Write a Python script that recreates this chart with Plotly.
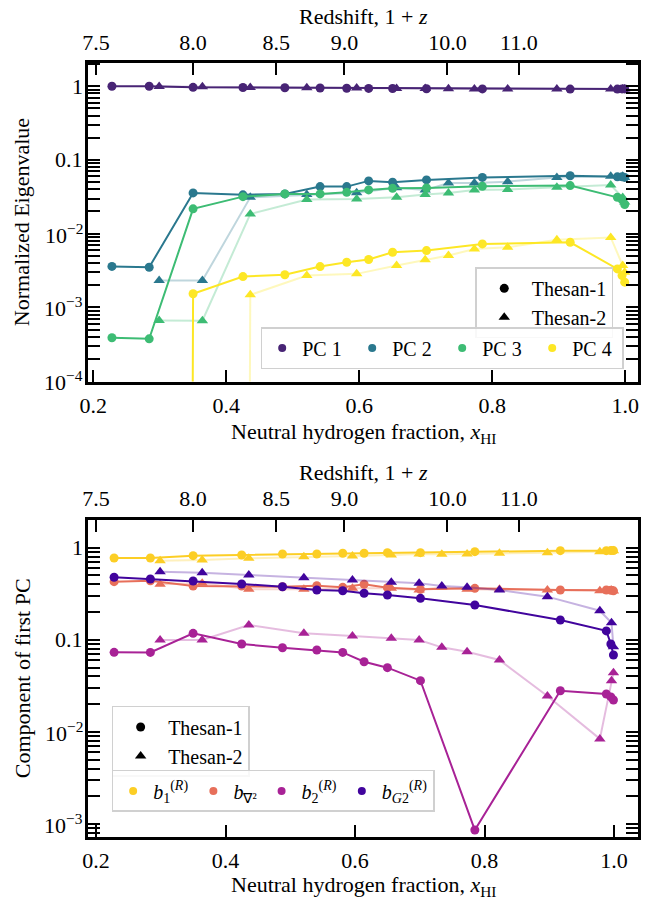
import numpy as np
import plotly.graph_objects as go

FONT = "'Liberation Serif', 'Times New Roman', Times, serif"

# ---------------- data ----------------
# neutral hydrogen fraction of the snapshots
xhi_t1 = [0.228, 0.284, 0.350, 0.425, 0.488, 0.541, 0.581, 0.614, 0.650, 0.701, 0.785, 0.917, 0.988, 0.995, 0.999]
xhi_t2 = [0.299, 0.364, 0.436, 0.521, 0.596, 0.656, 0.699, 0.734, 0.773, 0.823, 0.897, 0.978, 0.996, 0.999]

# top panel: normalized eigenvalues
pc1_t1 = [1.0, 1.0, 0.965, 0.96, 0.955, 0.945, 0.94, 0.935, 0.93, 0.925, 0.92, 0.915, 0.915, 0.92, 0.92]
pc1_t2 = [0.99, 0.985, 0.96, 0.955, 0.945, 0.93, 0.93, 0.925, 0.92, 0.92, 0.915, 0.915, 0.92, 0.92]
pc2_t1 = [0.0036, 0.0035, 0.0357, 0.0336, 0.0346, 0.0435, 0.0435, 0.052, 0.050, 0.0536, 0.058, 0.061, 0.059, 0.059, 0.058]
pc2_t2 = [0.00231, 0.00231, 0.0311, 0.034, 0.036, 0.042, 0.039, 0.0488, 0.0488, 0.0508, 0.058, 0.060, 0.060, 0.058]
pc3_t1 = [3.87e-4, 3.75e-4, 0.0217, 0.0318, 0.0346, 0.0346, 0.0364, 0.0392, 0.0412, 0.0417, 0.0439, 0.0449, 0.0311, 0.029, 0.0248]
pc3_t2 = [6.65e-4, 6.6e-4, 0.0185, 0.029, 0.0296, 0.0311, 0.0339, 0.0357, 0.0392, 0.0396, 0.0425, 0.0458, 0.031, 0.027]
pc4_t1 = [0.0, 0.0, 1.53e-3, 2.62e-3, 2.77e-3, 3.58e-3, 4.1e-3, 4.46e-3, 5.6e-3, 5.9e-3, 7.27e-3, 7.64e-3, 3.33e-3, 2.7e-3, 2.2e-3]
pc4_t2 = [0.0, 0.0, 1.48e-3, 2.7e-3, 2.85e-3, 3.7e-3, 4.42e-3, 5.05e-3, 6.2e-3, 6.55e-3, 8.3e-3, 8.9e-3, 3.7e-3, 3.0e-3]

# bottom panel: components of first PC
b1_t1 = [0.773, 0.773, 0.819, 0.833, 0.855, 0.855, 0.869, 0.869, 0.883, 0.883, 0.905, 0.928, 0.928, 0.93, 0.93]
b1_t2 = [0.723, 0.735, 0.767, 0.798, 0.813, 0.833, 0.855, 0.85, 0.855, 0.869, 0.883, 0.905, 0.92, 0.928]
bnab_t1 = [0.428, 0.438, 0.384, 0.384, 0.377, 0.387, 0.371, 0.401, 0.368, 0.353, 0.362, 0.347, 0.347, 0.345, 0.34]
bnab_t2 = [0.401, 0.41, 0.353, 0.353, 0.362, 0.362, 0.347, 0.371, 0.353, 0.353, 0.347, 0.34, 0.345, 0.338]
b2_t1 = [0.0731, 0.073, 0.1175, 0.090, 0.082, 0.0775, 0.073, 0.0578, 0.0498, 0.036, 8.6e-4, 0.028, 0.0258, 0.024, 0.0222]
b2_t2 = [0.0995, 0.0995, 0.145, 0.1175, 0.110, 0.104, 0.0995, 0.0828, 0.0743, 0.0604, 0.0245, 8.4e-3, 0.036, 0.044]
bg2_t1 = [0.477, 0.457, 0.435, 0.404, 0.377, 0.347, 0.341, 0.32, 0.306, 0.282, 0.239, 0.164, 0.125, 0.09, 0.0684]
bg2_t2 = [0.548, 0.535, 0.506, 0.472, 0.446, 0.421, 0.41, 0.384, 0.371, 0.347, 0.294, 0.207, 0.153, 0.084]

# redshift axis ticks (position in x_HI, label 1+z)
z_tick_xhi = [0.204, 0.350, 0.475, 0.5775, 0.7324, 0.840]
z_tick_text = ["7.5", "8.0", "8.5", "9.0", "10.0", "11.0"]

x_ticks = [0.2, 0.4, 0.6, 0.8, 1.0]
x_tick_text = ["0.2", "0.4", "0.6", "0.8", "1.0"]

y1_ticks = [1e-4, 1e-3, 1e-2, 0.1, 1]
y1_tick_text = ["10<sup>−4</sup>", "10<sup>−3</sup>", "10<sup>−2</sup>", "0.1", "1"]
y2_ticks = [1e-3, 1e-2, 0.1, 1]
y2_tick_text = ["10<sup>−3</sup>", "10<sup>−2</sup>", "0.1", "1"]

pc_names = ["PC 1", "PC 2", "PC 3", "PC 4"]
pc_colors = ["#482475", "#2a788e", "#3dbc74", "#fde725"]
b_names = ["<i>b</i><sub>1</sub><sup>(<i>R</i>)</sup>", "<i>b</i><sub>∇²</sub>",
           "<i>b</i><sub>2</sub><sup>(<i>R</i>)</sup>", "<i>b</i><sub><i>G</i>2</sub><sup>(<i>R</i>)</sup>"]
b_colors = ["#fcce25", "#e76f5a", "#a82296", "#41049d"]


def clip_nonpos(v):
    # matplotlib's log-scale 'clip' behaviour for non-positive values
    v = np.asarray(v, dtype=float)
    return np.where(v > 0, v, 1e-300)


def rgba(hexc, a):
    h = hexc.lstrip("#")
    r, g, b = int(h[0:2], 16), int(h[2:4], 16), int(h[4:6], 16)
    return f"rgba({r},{g},{b},{a})"


fig = go.Figure()


def add_series(xa, ya, t1, t2, color):
    fig.add_trace(go.Scatter(x=xhi_t2, y=clip_nonpos(t2), mode="lines+markers", xaxis=xa, yaxis=ya,
                             line=dict(color=rgba(color, 0.3), width=2),
                             marker=dict(symbol="triangle-up", size=10, color=color),
                             showlegend=False, hoverinfo="skip"))
    fig.add_trace(go.Scatter(x=xhi_t1, y=clip_nonpos(t1), mode="lines+markers", xaxis=xa, yaxis=ya,
                             line=dict(color=color, width=2),
                             marker=dict(symbol="circle", size=9, color=color),
                             showlegend=False, hoverinfo="skip"))


for t1, t2, c in zip([pc1_t1, pc2_t1, pc3_t1, pc4_t1], [pc1_t2, pc2_t2, pc3_t2, pc4_t2], pc_colors):
    add_series("x", "y", t1, t2, c)
for t1, t2, c in zip([b1_t1, bnab_t1, b2_t1, bg2_t1], [b1_t2, bnab_t2, b2_t2, bg2_t2], b_colors):
    add_series("x2", "y2", t1, t2, c)

# invisible carriers for the redshift axes
fig.add_trace(go.Scatter(x=z_tick_xhi, y=[1] * len(z_tick_xhi), xaxis="x3", yaxis="y", mode="markers",
                         marker=dict(opacity=0), showlegend=False, hoverinfo="skip"))
fig.add_trace(go.Scatter(x=z_tick_xhi, y=[1] * len(z_tick_xhi), xaxis="x4", yaxis="y2", mode="markers",
                         marker=dict(opacity=0), showlegend=False, hoverinfo="skip"))

# legend entries
for lg in ["legend", "legend3"]:
    fig.add_trace(go.Scatter(x=[None], y=[None], mode="markers", name="Thesan-1",
                             marker=dict(symbol="circle", size=9, color="black"), legend=lg))
    fig.add_trace(go.Scatter(x=[None], y=[None], mode="markers", name="Thesan-2",
                             marker=dict(symbol="triangle-up", size=10, color="black"), legend=lg))
for n, c in zip(pc_names, pc_colors):
    fig.add_trace(go.Scatter(x=[None], y=[None], mode="markers", name=n,
                             marker=dict(symbol="circle", size=8, color=c), legend="legend2"))
for n, c in zip(b_names, b_colors):
    fig.add_trace(go.Scatter(x=[None], y=[None], mode="markers", name=n,
                             marker=dict(symbol="circle", size=8, color=c), legend="legend4"))

tickfont = dict(family=FONT, size=22, color="black")
titlefont = dict(family=FONT, size=22, color="black")

minor_vals = [m * 10.0 ** k for k in range(-5, 1) for m in range(2, 10)]


def xaxis_main(rng):
    return dict(range=rng, tickmode="array", tickvals=x_ticks, ticktext=x_tick_text,
                ticks="inside", ticklen=12, tickwidth=2, tickcolor="black",
                showline=True, linewidth=2.5, linecolor="black", mirror=True,
                showgrid=False, zeroline=False, tickfont=tickfont, ticklabelstandoff=2)


def yaxis_main(rng, dom, tv):
    return dict(type="log", range=rng, domain=dom, tickmode="array", tickvals=tv,
                showticklabels=False,
                ticks="inside", ticklen=12, tickwidth=2, tickcolor="black",
                minor=dict(ticks="inside", ticklen=6, tickwidth=1.5, tickcolor="black",
                           tickmode="array", tickvals=minor_vals, showgrid=False),
                showline=True, linewidth=2.5, linecolor="black", mirror="allticks",
                showgrid=False, zeroline=False)


def zaxis(over, anchor, rng):
    return dict(overlaying=over, anchor=anchor, side="top", range=rng,
                tickmode="array", tickvals=z_tick_xhi, ticktext=z_tick_text,
                ticks="inside", ticklen=12, tickwidth=2, tickcolor="black",
                showline=False, showgrid=False, zeroline=False, tickfont=tickfont,
                ticklabelstandoff=8)


top_xr = [0.192, 1.019]
bot_xr = [0.1877, 1.0369]

legend_common = dict(font=dict(family=FONT, size=20, color="black"), bgcolor="rgba(255,255,255,0.85)",
                     bordercolor="#d0d0d0", borderwidth=1.5)

# axis titles (paper coordinates)
xlab = "Neutral hydrogen fraction, <i>x</i><sub>HI</sub>"
zlab = "Redshift, 1 + <i>z</i>"
annotations = [
    dict(text=zlab, x=0.5, y=1.0607, xref="paper", yref="paper", showarrow=False,
         xanchor="center", yanchor="middle", font=titlefont),
    dict(text=xlab, x=0.5, y=0.5220, xref="paper", yref="paper", showarrow=False,
         xanchor="center", yanchor="middle", font=titlefont),
    dict(text=zlab, x=0.5, y=0.4710, xref="paper", yref="paper", showarrow=False,
         xanchor="center", yanchor="middle", font=titlefont),
    dict(text=xlab, x=0.5, y=-0.0633, xref="paper", yref="paper", showarrow=False,
         xanchor="center", yanchor="middle", font=titlefont),
    dict(text="Normalized Eigenvalue", x=-0.1196, y=0.7946, xref="paper", yref="paper",
         showarrow=False, textangle=-90, xanchor="center", yanchor="middle", font=titlefont),
    dict(text="Component of first PC", x=-0.1196, y=0.2054, xref="paper", yref="paper",
         showarrow=False, textangle=-90, xanchor="center", yanchor="middle", font=titlefont),
]
# y tick labels, placed just outside the left spine
for yref, tv, tt in [("y", y1_ticks, y1_tick_text), ("y2", y2_ticks, y2_tick_text)]:
    for v, t in zip(tv, tt):
        annotations.append(dict(text=t, x=0, xref="paper", y=float(np.log10(v)), yref=yref,
                                xanchor="right", yanchor="middle", xshift=-3, showarrow=False,
                                font=tickfont))

fig.update_layout(
    width=653, height=900,
    margin=dict(l=88, r=13, t=63, b=63),
    paper_bgcolor="white", plot_bgcolor="white",
    font=dict(family=FONT, color="black"),
    xaxis=dict(anchor="y", domain=[0, 1], **xaxis_main(top_xr)),
    yaxis=dict(anchor="x", **yaxis_main([-4.005, 0.315], [0.5885, 1.0], y1_ticks)),
    xaxis2=dict(anchor="y2", domain=[0, 1], **xaxis_main(bot_xr)),
    yaxis2=dict(anchor="x2", **yaxis_main([-3.141, 0.306], [0.0, 0.4102], y2_ticks)),
    xaxis3=zaxis("x", "y", top_xr),
    xaxis4=zaxis("x2", "y2", top_xr),
    annotations=annotations,
    legend=dict(x=0.955, y=0.736, xanchor="right", yanchor="top", orientation="v",
                itemwidth=45, **legend_common),
    legend2=dict(x=0.974, y=0.6589, xanchor="right", yanchor="top", orientation="h",
                 entrywidth=45, **legend_common),
    legend3=dict(x=0.043, y=0.1693, xanchor="left", yanchor="top", orientation="v",
                 itemwidth=45, **legend_common),
    legend4=dict(x=0.043, y=0.0866, xanchor="left", yanchor="top", orientation="h", **legend_common),
)

fig.write_html("out.html", config={"displayModeBar": False},
               post_script="document.body.style.margin='0';document.body.style.padding='0';"
                           "document.body.style.overflow='hidden';")
